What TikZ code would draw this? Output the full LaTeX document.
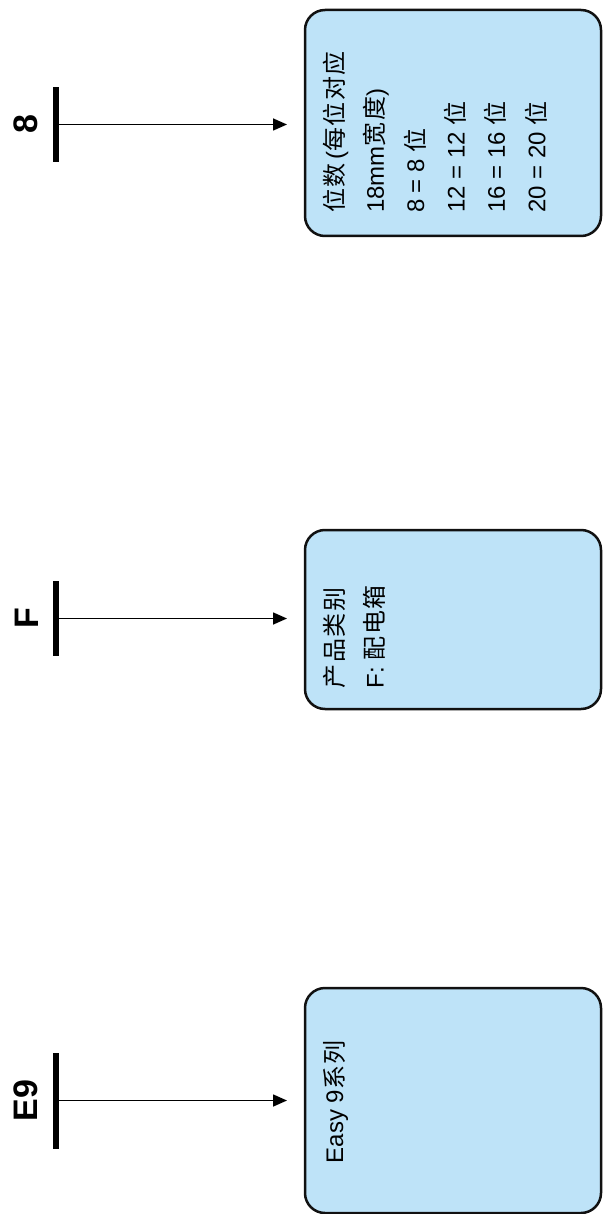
\documentclass[tikz,border=0pt]{standalone}
\usepackage{fontspec}
\setmainfont{Liberation Sans}
\newfontfamily\cjk{Noto Sans CJK SC}[LetterSpace=6]
\usetikzlibrary{arrows.meta}
\definecolor{codeFill}{HTML}{BEE3F8}
\definecolor{codeInk}{HTML}{111111}
\tikzset{
  code diagram/.style={
    x=1pt, y=-1pt,
    >={Triangle[length=14pt,width=12pt]},
    every node/.style={inner sep=0pt, outer sep=0pt, text=black}
  },
  code box/.style={draw=codeInk, line width=2.5pt, fill=codeFill,
    rounded corners=20pt, minimum width=296pt},
  code text/.style={rotate=90, anchor=north west, align=left,
    font=\fontsize{24}{40.4}\selectfont},
  code bar/.style={fill=black, minimum width=6pt},
  code label/.style={rotate=90, anchor=south,
    font=\bfseries\fontsize{34}{40}\selectfont},
  code arrow/.style={->, line width=1.6pt, draw=black, shorten >=18pt}
}
\newcommand{\CodePart}[4]{%
  \node[code bar, minimum height=#3] (#1bar) at (56,#2) {};
  \node[code label] (#1lbl) at ([xshift=-15pt]#1bar.west) {#4};
  \draw[code arrow] (#1bar.east) -- (#1bar.east -| #1box.west);
}

\begin{document}
\begin{tikzpicture}[code diagram]
    \useasboundingbox (0,0) rectangle (603,1214);
    % boxes
    \node[code box, minimum height=226pt] (digitsbox) at (453,123) {};
    \node[code box, minimum height=179pt] (typebox) at (453,619.5) {};
    \node[code box, minimum height=225pt] (seriesbox) at (453,1100.5) {};
    \node[code text] (digitstxt) at (323,213)
      {{\cjk 位数}\,({\cjk 每位对应}\\18mm{\cjk 宽度})\\8 = 8 {\cjk 位}\\12 = 12 {\cjk 位}\\
       16 = 16 {\cjk 位}\\20 = 20 {\cjk 位}};
    \node[code text] (typetxt) at (323,688) {{\cjk 产品类别}\\F: {\cjk 配电箱}};
    \node[code text] (seriestxt) at (323,1163) {Easy 9{\cjk 系列}};
    % code letters
    \CodePart{digits}{124.5}{75pt}{8}
    \CodePart{type}{618.5}{75pt}{F}
    \CodePart{series}{1100.5}{96pt}{E9}
  \end{tikzpicture}
\end{document}
